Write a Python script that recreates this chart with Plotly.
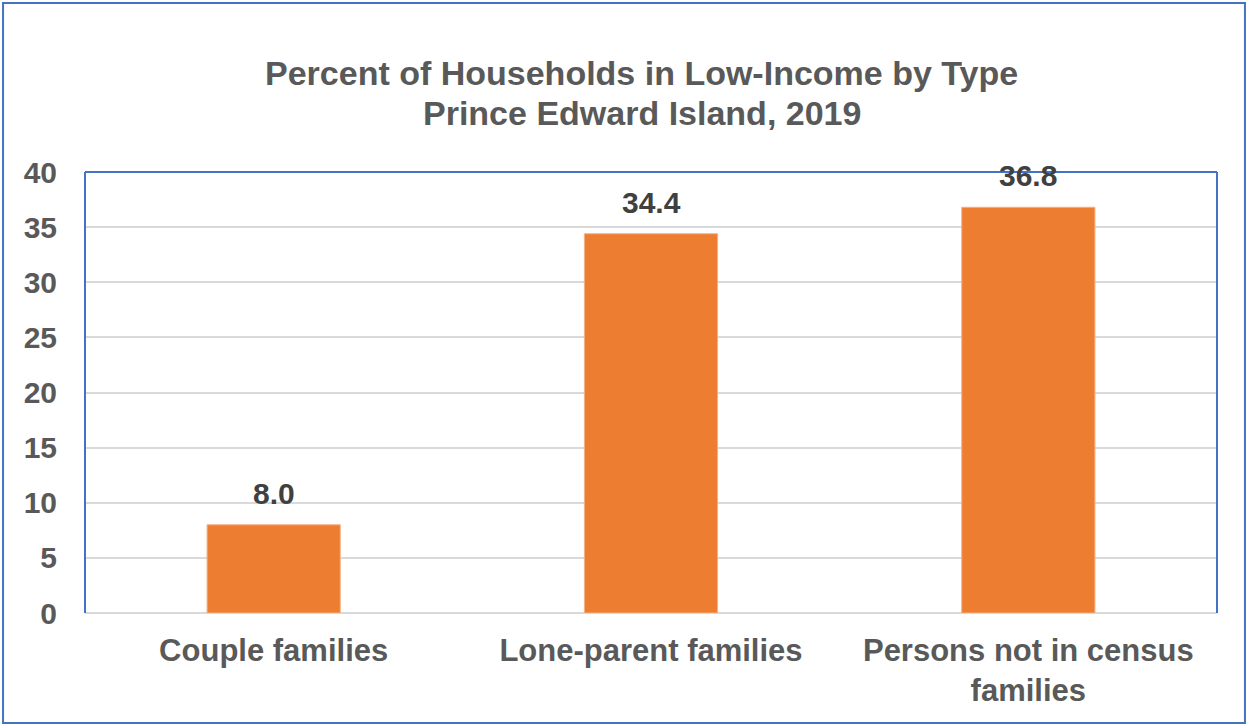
import plotly.graph_objects as go

categories = ["Couple families", "Lone-parent families", "Persons not in census<br>families"]
values = [8.0, 34.4, 36.8]
value_labels = ["8.0", "34.4", "36.8"]
y_ticks = [0, 5, 10, 15, 20, 25, 30, 35, 40]
title_lines = ["Percent of Households in Low-Income by Type", "Prince Edward Island, 2019"]

FONT = "Liberation Sans, Arial, sans-serif"
BLUE = "#4472C4"
GRAY_TEXT = "#595959"

fig = go.Figure()
fig.add_trace(go.Bar(
    x=categories, y=values,
    marker=dict(color="#ED7D31", line=dict(color="#F4B183", width=1)),
    width=0.353,
    hoverinfo="skip",
))

for c, v, t in zip(categories, values, value_labels):
    fig.add_annotation(x=c, y=v, text=f"<b>{t}</b>", showarrow=False,
                       yanchor="bottom", yshift=13,
                       font=dict(family=FONT, size=30, color="#404040"))

# title lines (plot area: x 85..1217, y 172..613 in pixels)
for line, ypos in zip(title_lines, [1.2245, 1.1338]):
    fig.add_annotation(xref="paper", yref="paper", x=0.492, y=ypos,
                       xanchor="center", yanchor="middle", showarrow=False,
                       text=f"<b>{line}</b>",
                       font=dict(family=FONT, size=34, color=GRAY_TEXT))

shapes = [
    dict(type="rect", xref="paper", yref="paper", x0=-0.0724, x1=1.0247, y0=-0.2494, y1=1.383,
         line=dict(color=BLUE, width=2), layer="below"),
    dict(type="line", xref="paper", yref="paper", x0=0, x1=1, y0=1, y1=1, line=dict(color=BLUE, width=2)),
    dict(type="line", xref="paper", yref="paper", x0=0, x1=0, y0=0, y1=1, line=dict(color=BLUE, width=2)),
    dict(type="line", xref="paper", yref="paper", x0=1, x1=1, y0=0, y1=1, line=dict(color=BLUE, width=2)),
]

fig.update_layout(
    width=1248, height=726,
    margin=dict(l=85, r=31, t=172, b=113),
    paper_bgcolor="white", plot_bgcolor="white",
    showlegend=False,
    xaxis=dict(
        showgrid=False, showline=False, ticks="",
        tickvals=categories, ticktext=[f"<b>{c}</b>" for c in categories],
        tickfont=dict(family=FONT, size=31, color=GRAY_TEXT),
        ticklabelstandoff=16,
    ),
    yaxis=dict(
        range=[0, 40], tickvals=y_ticks, ticktext=[f"<b>{v}</b>" for v in y_ticks],
        showgrid=True, gridcolor="#D9D9D9", gridwidth=1.5,
        zeroline=True, zerolinecolor="#D9D9D9", zerolinewidth=1.5,
        tickfont=dict(family=FONT, size=30, color=GRAY_TEXT),
        ticklabelstandoff=27,
    ),
    shapes=shapes,
)

fig.write_html("out.html", config={"displayModeBar": False},
               post_script="document.body.style.margin='0';")
